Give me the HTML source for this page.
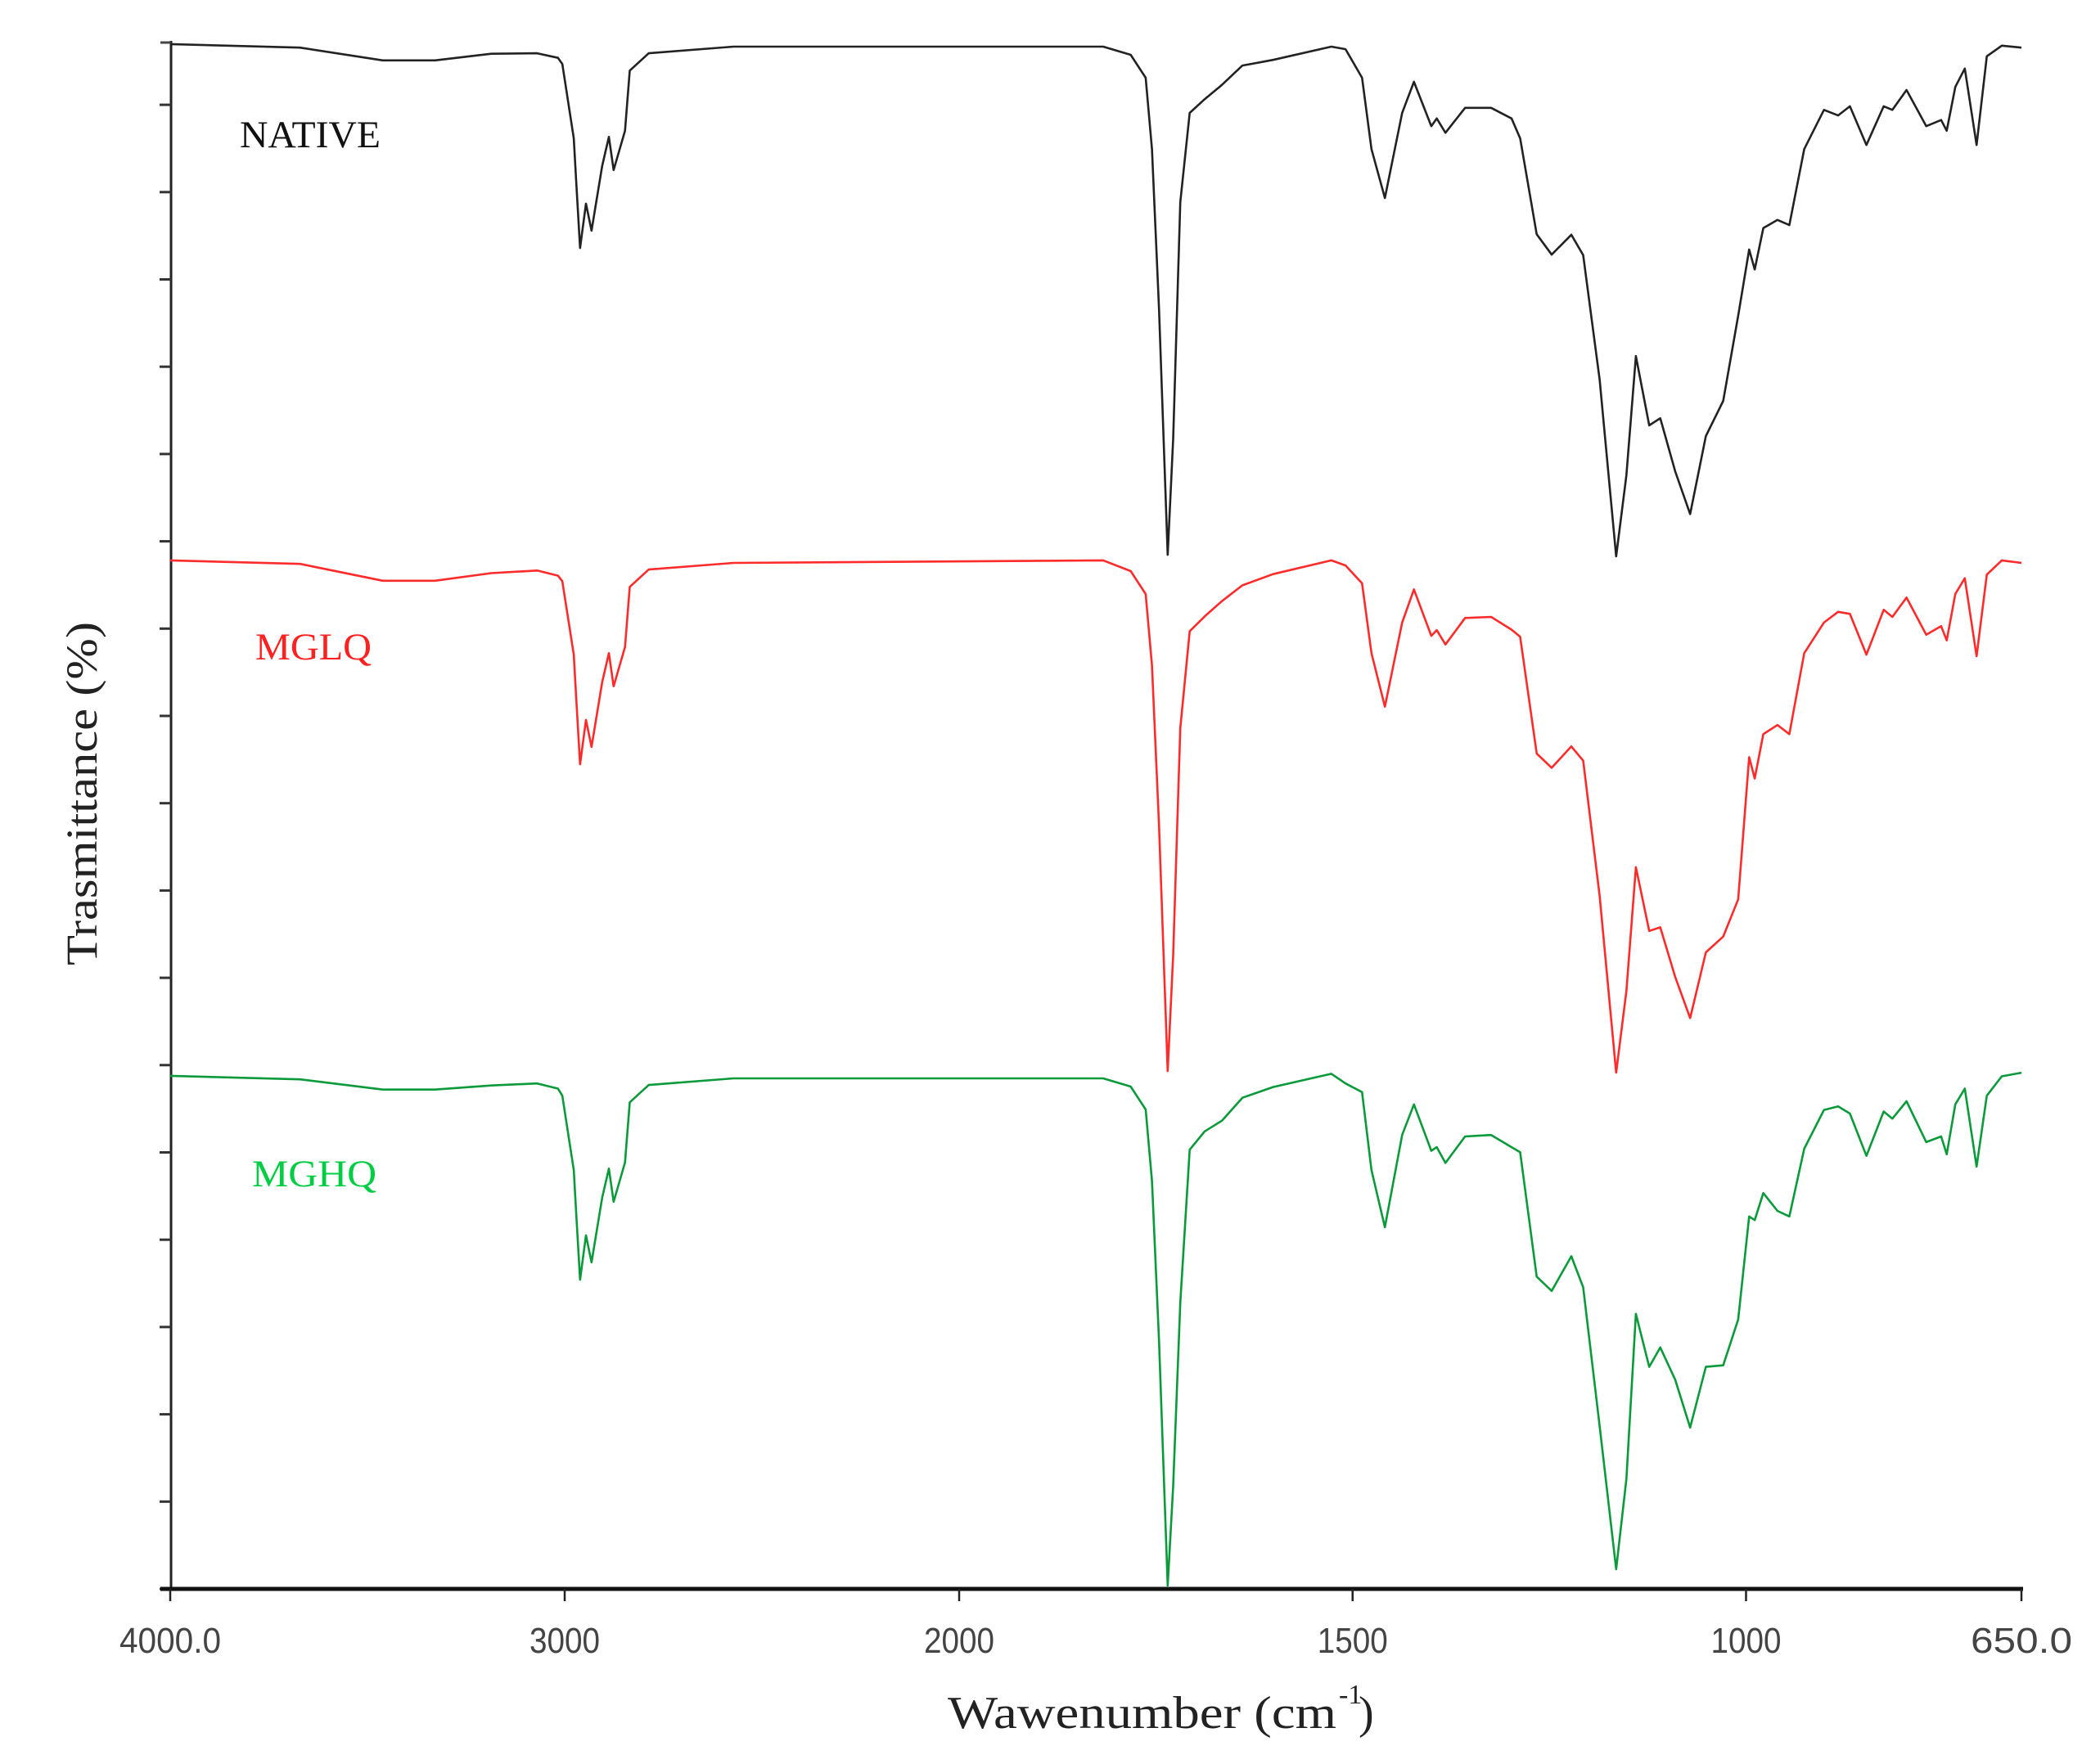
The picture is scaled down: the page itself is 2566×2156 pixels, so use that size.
<!DOCTYPE html>
<html><head><meta charset="utf-8"><title>FTIR spectra</title>
<style>
html,body{margin:0;padding:0;background:#fff;}
svg{display:block;}
</style></head>
<body>
<svg id="chart" width="2566" height="2156" viewBox="0 0 2566 2156" xmlns="http://www.w3.org/2000/svg">
  <rect x="0" y="0" width="2566" height="2156" fill="#fff"/>
  <g id="axes"></g>
  <g id="series"></g>
  <text x="293" y="180" font-family="Liberation Serif, serif" font-size="47" fill="#111" textLength="172" lengthAdjust="spacingAndGlyphs">NATIVE</text>
  <text x="312" y="806" font-family="Liberation Serif, serif" font-size="47" fill="#ff2020" textLength="142" lengthAdjust="spacingAndGlyphs">MGLQ</text>
  <text x="308" y="1450" font-family="Liberation Serif, serif" font-size="47" fill="#00cc44" textLength="152" lengthAdjust="spacingAndGlyphs">MGHQ</text>
  <text transform="translate(118,970) rotate(-90)" text-anchor="middle" font-family="Liberation Serif, serif" font-size="54" fill="#222" textLength="420" lengthAdjust="spacingAndGlyphs">Trasmittance (%)</text>
  <text x="1158" y="2112" font-family="Liberation Serif, serif" font-size="56" fill="#222" textLength="475" lengthAdjust="spacingAndGlyphs">Wawenumber (cm</text>
  <text x="1636" y="2082" font-family="Liberation Serif, serif" font-size="34" fill="#222">-1</text>
  <text x="1660" y="2112" font-family="Liberation Serif, serif" font-size="56" fill="#222">)</text>
</svg>
<script>
const xTickValues = [4000, 3000, 2000, 1500, 1000, 650];
const xTickLabels = ["4000.0", "3000", "2000", "1500", "1000", "650.0"];
const seriesNames = ["NATIVE", "MGLQ", "MGHQ"];
const wavenumbers = [4000,3671,3461,3329,3186,3070,3017,3006,2977,2971,2961,2946,2932,2905,2888,2876,2847,2835,2787,2572,1817,1782,1763,1755,1746,1735,1728,1719,1707,1688,1666,1640,1601,1527,1509,1488,1476,1459,1437,1422,1400,1393,1382,1357,1324,1298,1287,1266,1247,1222,1207,1186,1165,1152,1140,1123,1109,1090,1071,1051,1029,1010,996,989,978,960,945,926,901,883,868,847,825,814,796,771,752,745,734,722,707,694,675,650];
const nativeT = [100.5,99.8,97.3,97.3,98.6,98.7,97.8,96.6,82.0,73.7,60.5,69.2,63.9,76.6,82.3,75.8,83.5,95.3,98.7,100,100,98.4,93.9,79.9,48.6,0.3,23.0,69.5,87.0,89.7,92.5,96.3,97.4,100,99.5,93.9,79.9,70.3,87.0,93.1,84.4,85.9,83.1,88.0,88.0,85.9,82.0,63.2,59.2,63.1,59.1,34.7,0,15.9,39.3,25.7,27.1,16.7,8.3,23.6,30.5,47.2,60.2,56.3,64.4,66.0,65.0,79.9,87.6,86.5,88.3,80.7,88.3,87.6,91.5,84.4,85.6,83.5,92.1,95.7,80.7,98.1,100.2,99.8];
const mglqT = [100.5,99.8,96.5,96.5,98.0,98.5,97.5,96.4,82,73.7,60.5,69.2,63.9,76.6,82.3,75.8,83.5,95.3,98.7,100,100.5,98.4,93.9,79.9,48.6,0.3,23.0,67.6,86.6,89.5,92.5,95.6,97.8,100.5,99.5,96,82.3,71.8,88.3,94.8,85.7,86.8,84,89.2,89.4,86.9,85.5,62.6,59.8,64,61.2,34.7,0,16,40.3,27.8,28.5,18.8,10.7,23.6,26.7,34,61.9,57.7,66.4,68.2,66.4,82.3,88.3,90.4,90,82,90.8,89.4,93.2,85.9,87.6,84.8,93.9,97,81.7,97.7,100.5,100];
const mghqT = [100.5,99.8,97.8,97.8,98.6,99,98,96.6,82,73.7,60.5,69.2,63.9,76.6,82.3,75.8,83.5,95.3,98.7,100,100,98.4,93.9,79.9,48.6,0.5,20,56,86,89.6,91.7,96.2,98.3,100.9,99,97.3,82,70.8,88.9,94.9,85.8,86.5,83.4,88.6,88.9,86.5,85.5,61.1,58.3,65.1,59,31.8,3.7,21.4,53.8,43.4,47.2,40.9,31.5,43.4,43.7,52.7,72.9,72.2,77.5,74,72.9,86.2,93.8,94.5,93.1,84.8,93.5,92.1,95.5,87.5,88.6,85.1,94.9,98,82.7,96.6,100.4,101.1];

const NS = "http://www.w3.org/2000/svg";
const seriesData = [nativeT, mglqT, mghqT];
const seriesTop = [57, 688, 1318];
const seriesColor = ["#222222", "#ff2a2a", "#0a9a3a"];
const PX_PER_T = 6.23;
const X0 = 208, X2000 = 1172, XEND = 2470, AXIS_Y = 1942;

function xScale(w) {
  if (w >= 2000) return X0 + (4000 - w) * (X2000 - X0) / 2000;
  return X2000 + (2000 - w) * (XEND - X2000) / 1350;
}
function yScale(t, i) { return seriesTop[i] + (100 - t) * PX_PER_T; }

const axes = document.getElementById('axes');
function mk(tag, attrs, parent) {
  const e = document.createElementNS(NS, tag);
  for (const k in attrs) e.setAttribute(k, attrs[k]);
  parent.appendChild(e);
  return e;
}
const yAxis = mk('line', {x1: 209, y1: 50, x2: 209, y2: AXIS_Y, stroke: '#222', 'stroke-width': 3}, axes);


const topTick = mk('line', {x1: 196, y1: 52, x2: 209, y2: 52, stroke: '#444', 'stroke-width': 3}, axes);


for (let k = 0; k <= 17; k++) {
  const y = AXIS_Y - k * 106.7;
  const t = mk('line', {x1: 195, y1: y, x2: 209, y2: y, stroke: '#333', 'stroke-width': 3}, axes);
  
  
}
const xAxis = mk('line', {x1: 196, y1: AXIS_Y, x2: 2472, y2: AXIS_Y, stroke: '#111', 'stroke-width': 5}, axes);


xTickValues.forEach((v, i) => {
  const x = xScale(v);
  const t = mk('line', {x1: x, y1: AXIS_Y, x2: x, y2: AXIS_Y + 15, stroke: '#222', 'stroke-width': 2.5}, axes);
  
  
  const lbl = mk('text', {x: x, y: 2020, 'text-anchor': 'middle', 'font-family': 'Liberation Sans Narrow, Liberation Sans, sans-serif', 'font-size': 44, fill: '#444'}, axes);
  
  
  lbl.setAttribute('textLength', xTickLabels[i].length > 4 ? 124 : 86);
  lbl.setAttribute('lengthAdjust', 'spacingAndGlyphs');
  lbl.textContent = xTickLabels[i];
});
const sg = document.getElementById('series');
seriesData.forEach((vals, i) => {
  const d = wavenumbers.map((w, j) => (j ? 'L' : 'M') + xScale(w).toFixed(1) + ' ' + yScale(vals[j], i).toFixed(1)).join(' ');
  const p = mk('path', {d: d, fill: 'none', stroke: seriesColor[i], 'stroke-width': 2.6, 'stroke-linejoin': 'round'}, sg);
  
  
});
</script>
</body></html>
